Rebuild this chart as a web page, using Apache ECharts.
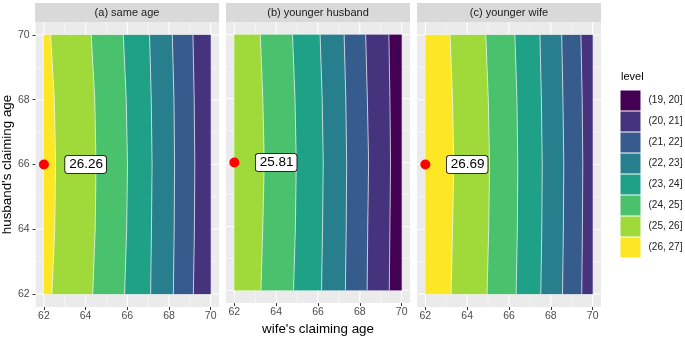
<!DOCTYPE html>
<html>
<head>
<meta charset="utf-8">
<script src="https://cdn.jsdelivr.net/npm/echarts@6/dist/echarts.min.js"></script>
<style>
  html, body { margin: 0; padding: 0; background: #fff; }
  #chart { width: 685px; height: 341px; }
</style>
</head>
<body>
<div id="chart"></div>
<script>
// husband's claiming age rows where the contour edges were read
var yRows = [62, 64, 66, 68, 70];
var levels = ['(19, 20]', '(20, 21]', '(21, 22]', '(22, 23]', '(23, 24]', '(24, 25]', '(25, 26]', '(26, 27]'];
var panelNames = ['(a) same age', '(b) younger husband', '(c) younger wife'];
var tickValues = [62, 64, 66, 68, 70];
var gridValues = [62, 63, 64, 65, 66, 67, 68, 69, 70];

// wife's claiming age at each contour edge (left to right), per row in yRows
var edgesA = [
  [62, 62, 62, 62, 62],
  [62.38, 62.52, 62.56, 62.50, 62.32],
  [64.34, 64.46, 64.50, 64.44, 64.27],
  [65.87, 65.97, 66.01, 65.95, 65.81],
  [67.12, 67.16, 67.19, 67.15, 67.07],
  [68.21, 68.25, 68.27, 68.24, 68.16],
  [69.17, 69.22, 69.24, 69.21, 69.15],
  [70, 70, 70, 70, 70]
];
var edgesB = [
  [62, 62, 62, 62, 62],
  [63.27, 63.36, 63.43, 63.36, 63.24],
  [64.83, 64.92, 64.96, 64.90, 64.78],
  [66.17, 66.22, 66.25, 66.20, 66.10],
  [67.31, 67.35, 67.37, 67.33, 67.25],
  [68.35, 68.38, 68.42, 68.36, 68.28],
  [69.41, 69.44, 69.47, 69.44, 69.39],
  [70, 70, 70, 70, 70]
];
var edgesC = [
  [62, 62, 62, 62, 62],
  [63.23, 63.30, 63.36, 63.30, 63.18],
  [64.95, 65.03, 65.07, 65.01, 64.89],
  [66.34, 66.40, 66.42, 66.38, 66.28],
  [67.52, 67.57, 67.59, 67.55, 67.48],
  [68.56, 68.60, 68.62, 68.58, 68.52],
  [69.48, 69.51, 69.53, 69.50, 69.44],
  [70, 70, 70, 70, 70]
];
var panelEdges = [edgesA, edgesB, edgesC];
// level index of the leftmost band in each panel
var firstLevel = [7, 6, 7];

var pointX = [62, 62, 62];
var pointY = [66, 66, 66];
var labelX = [64, 64, 64];
var labelY = [66, 66, 66];
var labelValues = ['26.26', '25.81', '26.69'];

var viridis = ['#440154', '#46337E', '#365C8D', '#277F8E', '#1FA187', '#4AC16D', '#9FDA3A', '#FDE725'];

var myChart = echarts.init(document.getElementById('chart'), null, {renderer: 'canvas'});

var gridLeft = [35, 226, 417];
var gridW = 184;
var gridTop = 22;
var gridH = 285;
var font = '"Liberation Sans", Arial, sans-serif';

var grids = [], xAxes = [], yAxes = [], series = [], graphics = [];

for (var p = 0; p < 3; p++) {
  grids.push({
    left: gridLeft[p], top: gridTop, width: gridW, height: gridH,
    show: true, backgroundColor: '#EBEBEB', borderWidth: 0
  });
  xAxes.push({
    gridIndex: p, type: 'value', min: 61.6, max: 70.4,
    axisLine: {show: false},
    axisTick: {show: true, length: 3, customValues: tickValues, lineStyle: {color: '#333333', width: 1}},
    axisLabel: {customValues: tickValues, color: '#4D4D4D', fontSize: 10.5, fontFamily: font, margin: 4},
    splitLine: {show: false},
    name: p === 1 ? "wife's claiming age" : '',
    nameLocation: 'middle', nameGap: 18,
    nameTextStyle: {fontSize: 13.4, color: '#000', fontFamily: font}
  });
  yAxes.push({
    gridIndex: p, type: 'value', min: 61.6, max: 70.4,
    axisLine: {show: false},
    axisTick: {show: p === 0, length: 3, customValues: tickValues, lineStyle: {color: '#333333', width: 1}},
    axisLabel: {show: p === 0, customValues: tickValues, color: '#4D4D4D', fontSize: 10.5, fontFamily: font, margin: 6},
    splitLine: {show: false},
    name: p === 0 ? "husband's claiming age" : '',
    nameLocation: 'middle', nameGap: 20,
    nameTextStyle: {fontSize: 13.4, color: '#000', fontFamily: font}
  });

  // panel grid lines
  var glData = [];
  gridValues.forEach(function (v) {
    var major = tickValues.indexOf(v) >= 0 ? 1 : 0;
    glData.push([v, 0, major]);
    glData.push([v, 1, major]);
  });
  series.push({
    type: 'custom', xAxisIndex: p, yAxisIndex: p, silent: true, z: 1,
    data: glData,
    renderItem: function (params, api) {
      var v = api.value(0), dir = api.value(1), major = api.value(2);
      var a, b;
      if (dir === 0) { a = api.coord([v, 61.6]); b = api.coord([v, 70.4]); }
      else { a = api.coord([61.6, v]); b = api.coord([70.4, v]); }
      return {
        type: 'line',
        shape: {x1: a[0], y1: a[1], x2: b[0], y2: b[1]},
        style: {stroke: '#FFFFFF', lineWidth: major ? 1.1 : 0.55}
      };
    }
  });

  // filled contour bands
  var edges = panelEdges[p];
  for (var k = 0; k < edges.length - 1; k++) {
    (function (edges, k, lvl) {
      series.push({
        type: 'custom', name: levels[lvl], xAxisIndex: p, yAxisIndex: p, z: 2,
        silent: true,
        itemStyle: {color: viridis[lvl]},
        data: [[edges[k][0], yRows[0]]],
        renderItem: function (params, api) {
          var left = [], right = [];
          for (var i = 0; i < yRows.length; i++) {
            left.push(api.coord([edges[k][i], yRows[i]]));
            right.push(api.coord([edges[k + 1][i], yRows[i]]));
          }
          var pts = left.concat(right.slice().reverse());
          var children = [{
            type: 'polygon', shape: {points: pts},
            style: {fill: viridis[lvl], stroke: viridis[lvl], lineWidth: 0.3}
          }];
          if (k > 0) {
            children.push({
              type: 'polyline', shape: {points: left},
              style: {stroke: 'rgba(255,255,255,0.85)', lineWidth: 0.8, fill: null}
            });
          }
          return {type: 'group', children: children};
        }
      });
    })(edges, k, firstLevel[p] - k);
  }

  // red point
  series.push({
    type: 'scatter', xAxisIndex: p, yAxisIndex: p, z: 5, silent: true,
    symbolSize: 10, itemStyle: {color: '#FF0000', opacity: 1},
    data: [[pointX[p], pointY[p]]]
  });
  // value label
  series.push({
    type: 'scatter', xAxisIndex: p, yAxisIndex: p, z: 6, silent: true,
    symbolSize: 1, itemStyle: {color: 'rgba(0,0,0,0)', opacity: 1},
    data: [[labelX[p], labelY[p], labelValues[p]]],
    label: {
      show: true, position: 'inside', opacity: 1,
      formatter: function (d) { return d.value[2]; },
      fontSize: 13.5, color: '#000', fontFamily: font,
      backgroundColor: '#FFFFFF', borderColor: '#000000', borderWidth: 0.8,
      borderRadius: 2.5, padding: [2, 3, 1, 4]
    }
  });

  // facet strip
  graphics.push({
    type: 'rect', left: gridLeft[p], top: 3,
    shape: {width: gridW, height: 19},
    style: {fill: '#D9D9D9'}
  });
  graphics.push({
    type: 'text', x: gridLeft[p] + gridW / 2, y: 12.5,
    style: {text: panelNames[p], fill: '#1A1A1A', font: '11px ' + font, textAlign: 'center', textVerticalAlign: 'middle'}
  });
}

// legend title
graphics.push({
  type: 'text', x: 621, y: 77,
  style: {text: 'level', fill: '#000', font: '11px ' + font, textVerticalAlign: 'middle'}
});

var option = {
  animation: false,
  backgroundColor: '#FFFFFF',
  grid: grids,
  xAxis: xAxes,
  yAxis: yAxes,
  legend: {
    data: levels,
    orient: 'vertical',
    left: 615.5, top: 85.5, padding: 5,
    itemWidth: 20, itemHeight: 20, itemGap: 1,
    icon: 'rect',
    selectedMode: false,
    textStyle: {fontSize: 10, color: '#1A1A1A', fontFamily: font, padding: [0, 0, 0, 3]}
  },
  graphic: graphics,
  series: series
};

myChart.setOption(option);
</script>
</body>
</html>
